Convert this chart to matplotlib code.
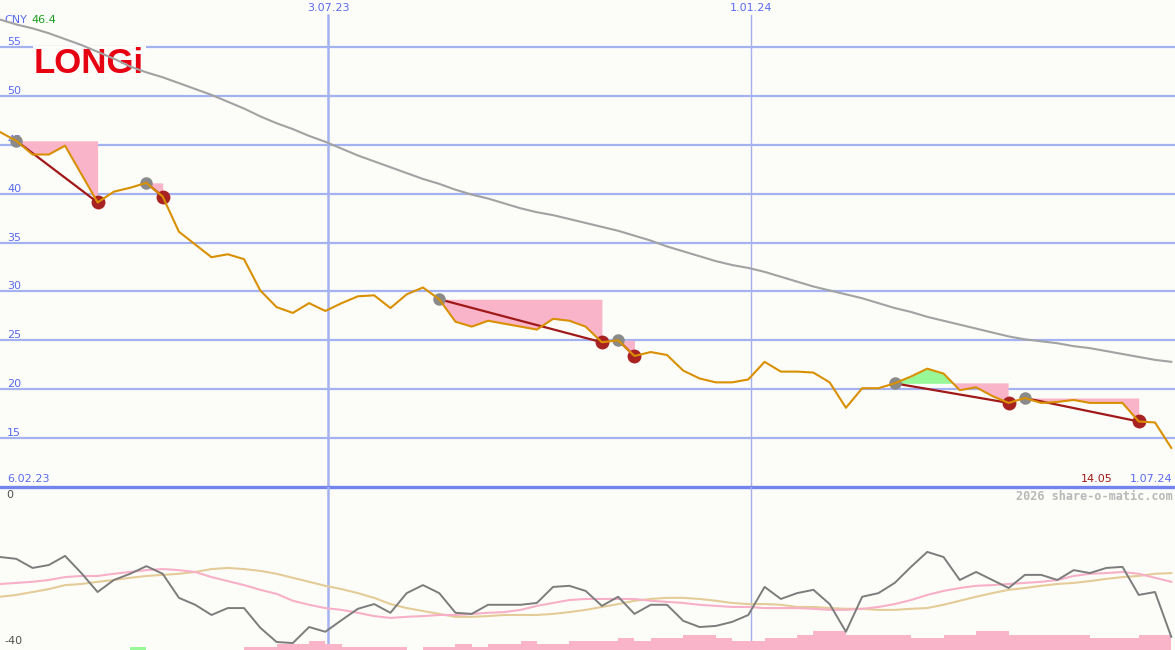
import matplotlib
matplotlib.use("Agg")
import matplotlib.pyplot as plt
import pandas as pd
import numpy as np

# weekly points, first one is 5.02.23
dates = pd.date_range("2023-02-05", periods=74, freq="7D")

price = [46.6, 46.3, 45.4, 44.0, 44.0, 44.9, 42.0, 39.1, 40.2, 40.6,
         41.1, 39.7, 36.1, 34.8, 33.5, 33.8, 33.3, 30.1, 28.4, 27.8,
         28.8, 28.0, 28.8, 29.5, 29.6, 28.3, 29.7, 30.4, 29.2, 26.9,
         26.4, 27.0, 26.7, 26.4, 26.1, 27.2, 27.0, 26.4, 24.8, 25.0,
         23.4, 23.8, 23.5, 21.9, 21.1, 20.7, 20.7, 21.0, 22.8, 21.8,
         21.8, 21.7, 20.7, 18.1, 20.1, 20.1, 20.6, 21.3, 22.1, 21.6,
         19.9, 20.2, 19.3, 18.6, 19.1, 18.6, 18.7, 18.9, 18.6, 18.6,
         18.6, 16.7, 16.6, 14.0]

ma_long = [58.2, 57.8, 57.3, 56.9, 56.4, 55.8, 55.2, 54.5, 53.8, 53.0,
           52.4, 51.9, 51.3, 50.7, 50.1, 49.4, 48.7, 47.9, 47.2, 46.6,
           45.9, 45.3, 44.6, 43.9, 43.3, 42.7, 42.1, 41.5, 41.0, 40.4,
           39.9, 39.5, 39.0, 38.5, 38.1, 37.8, 37.4, 37.0, 36.6, 36.2,
           35.7, 35.2, 34.6, 34.1, 33.6, 33.1, 32.7, 32.4, 32.0, 31.5,
           31.0, 30.5, 30.1, 29.7, 29.3, 28.8, 28.3, 27.9, 27.4, 27.0,
           26.6, 26.2, 25.8, 25.4, 25.1, 24.9, 24.7, 24.4, 24.2, 23.9,
           23.6, 23.3, 23.0, 22.8]

osc = [-15.6, -15.9, -16.4, -18.9, -18.1, -15.6, -20.3, -25.5, -22.2, -20.5,
       -18.4, -20.5, -27.1, -29.0, -31.8, -29.9, -29.9, -35.3, -39.2, -39.5,
       -35.1, -36.4, -33.2, -30.1, -28.8, -31.2, -25.8, -23.6, -25.8, -31.2,
       -31.5, -29.0, -29.0, -29.0, -28.5, -24.1, -23.8, -25.2, -29.3, -26.8,
       -31.5, -29.0, -29.0, -33.4, -35.1, -34.8, -33.7, -31.8, -24.1, -27.4,
       -25.8, -24.9, -28.8, -36.4, -26.8, -25.8, -23.0, -18.6, -14.5, -15.9,
       -22.2, -20.0, -22.2, -24.4, -20.8, -20.8, -22.2, -19.5, -20.3, -18.9,
       -18.6, -26.3, -25.5, -37.8]

osc_pink = [-23.6, -23.3, -23.0, -22.7, -22.2, -21.4, -21.1, -21.1, -20.5, -20.0,
            -19.5, -19.2, -19.5, -20.0, -21.4, -22.5, -23.6, -24.9, -26.0, -27.9,
            -29.0, -29.9, -30.4, -31.2, -32.1, -32.6, -32.3, -32.1, -31.8, -31.8,
            -31.5, -31.2, -31.0, -30.4, -29.3, -28.5, -27.7, -27.4, -27.4, -27.4,
            -27.4, -27.9, -28.2, -28.5, -29.0, -29.3, -29.6, -29.6, -29.9, -29.9,
            -29.9, -30.1, -30.4, -30.4, -30.1, -29.6, -28.8, -27.7, -26.3, -25.2,
            -24.4, -23.8, -23.6, -23.3, -23.0, -22.7, -22.2, -21.1, -20.5, -20.3,
            -20.0, -20.5, -21.6, -22.7]

osc_tan = [-27.4, -26.8, -26.3, -25.5, -24.7, -23.6, -23.3, -22.7, -22.2, -21.6,
           -21.1, -20.8, -20.5, -20.0, -19.2, -18.9, -19.2, -19.7, -20.5, -21.6,
           -22.7, -23.8, -24.7, -25.8, -27.1, -28.8, -29.9, -30.7, -31.5, -32.3,
           -32.3, -32.1, -31.8, -31.8, -31.8, -31.5, -31.0, -30.4, -29.6, -28.8,
           -27.9, -27.4, -27.1, -27.1, -27.4, -27.9, -28.5, -28.8, -28.8, -29.0,
           -29.6, -29.6, -29.9, -30.1, -30.1, -30.4, -30.4, -30.1, -29.9, -29.0,
           -27.9, -26.8, -25.8, -24.9, -24.4, -23.8, -23.3, -23.0, -22.5, -21.9,
           -21.4, -21.1, -20.5, -20.3]

bars_pink = [0, 0, 0, 0, 0, 0, 0, 0, 0, 0,
             0, 0, 0, 0, 0, 0, 0.8, 0.8, 1.6, 1.6,
             2.5, 1.6, 0.8, 0.8, 0.8, 0.8, 0, 0.8, 0.8, 1.6,
             0.8, 1.6, 1.6, 2.5, 1.6, 1.6, 2.5, 2.5, 2.5, 3.3,
             2.5, 3.3, 3.3, 4.1, 4.1, 3.3, 2.5, 2.5, 3.3, 3.3,
             4.1, 5.2, 5.2, 4.1, 4.1, 4.1, 4.1, 3.3, 3.3, 4.1,
             4.1, 5.2, 5.2, 4.1, 4.1, 4.1, 4.1, 4.1, 3.3, 3.3,
             3.3, 4.1, 4.1, 0]
bars_green = [0] * 9 + [0.8] + [0] * 64

trade_entries = ["2023-02-19", "2023-04-16", "2023-08-20",
                 "2023-11-05", "2024-03-03", "2024-04-28"]
trade_exits = ["2023-03-26", "2023-04-23", "2023-10-29",
               "2023-11-12", "2024-04-21", "2024-06-16"]

price_ticks = [15, 20, 25, 30, 35, 40, 45, 50, 55]

BG = "#fcfdf9"
GRID = "#a4b2f2"
BLUE = "#5a6af0"
ORANGE = "#d99000"
DARKRED = "#a01818"
PINK = "#f9b4c9"
GREEN = "#98f898"
SANS = "DejaVu Sans"
MONO = "DejaVu Sans Mono"

W, H, SPLIT = 1175, 650, 487


def up(x, y):
    return x / W, (SPLIT - y) / SPLIT


def low(x, y):
    return x / W, (H - y) / (H - SPLIT)


fig = plt.figure(figsize=(W / 100, H / 100), dpi=100, facecolor=BG)
ax = fig.add_axes([0, (H - SPLIT) / H, 1, SPLIT / H])
ax2 = fig.add_axes([0, 0, 1, (H - SPLIT) / H])

x0 = pd.Timestamp("2023-02-12")
x1 = x0 + pd.Timedelta(days=505.6)
for a in (ax, ax2):
    a.set_xlim(x0, x1)
    a.set_axis_off()
ax.set_ylim(10, 59.8)
ax2.set_ylim(-41.4, 3.3)

price = np.array(price)

# grid
for v in price_ticks:
    ax.axhline(v, color=GRID, lw=1.6, zorder=1)
    ax.text(x0 + pd.Timedelta(days=3), v + 0.2, str(v), color=BLUE,
            fontsize=8, family=SANS, va="baseline", ha="left", zorder=2)
ax.axhline(10, color="#7484ee", lw=2.4, clip_on=False, zorder=9)

ax.axvline(pd.Timestamp("2023-07-03"), ymax=0.97, color=GRID, lw=1.8, zorder=1)
ax.axvline(pd.Timestamp("2024-01-01"), ymax=0.97, color="#a8b0ec", lw=1.0, zorder=1)
ax2.axvline(pd.Timestamp("2023-07-03"), color=GRID, lw=1.8, zorder=1)
ax2.axvline(pd.Timestamp("2024-01-01"), color="#a8b0ec", lw=1.0, zorder=1)

# logo
ax.text(*up(34, 73), "LONGi", transform=ax.transAxes, color="#e60012",
        fontsize=25, fontweight="bold", family="Liberation Sans",
        va="baseline", ha="left", zorder=2,
        bbox=dict(facecolor=BG, edgecolor="none", pad=1.0))

# trades
for ent, ext in zip(trade_entries, trade_exits):
    ie = dates.get_loc(pd.Timestamp(ent))
    ix = dates.get_loc(pd.Timestamp(ext))
    seg_d = dates[ie:ix + 1]
    seg_p = price[ie:ix + 1]
    level = price[ie]
    ax.fill_between(seg_d, level, seg_p, where=seg_p <= level,
                    interpolate=True, color=PINK, lw=0, zorder=3)
    ax.fill_between(seg_d, level, seg_p, where=seg_p >= level,
                    interpolate=True, color=GREEN, lw=0, zorder=3)
    ax.plot([dates[ie], dates[ix]], [price[ie], price[ix]],
            color=DARKRED, lw=1.6, zorder=5)
    ax.plot(dates[ie], price[ie], "o", ms=9, color="#8a8a8a", mec="none", zorder=6)
    ax.plot(dates[ix], price[ix], "o", ms=10, color="#a82222", mec="none", zorder=6)

ax.plot(dates, ma_long, color="#a2a2a2", lw=1.5, zorder=4)
ax.plot(dates, price, color=ORANGE, lw=1.5, zorder=7)

# texts upper panel
ax.text(*up(328, 8), "3.07.23", transform=ax.transAxes, color=BLUE,
        fontsize=8, family=SANS, ha="center", va="center")
ax.text(*up(751, 8), "1.01.24", transform=ax.transAxes, color=BLUE,
        fontsize=8, family=SANS, ha="center", va="center")
ax.text(*up(4, 20), "CNY", transform=ax.transAxes, color=BLUE,
        fontsize=8, family=SANS, ha="left", va="center", zorder=2)
ax.text(*up(31, 20), "46.4", transform=ax.transAxes, color="#1c9c1c",
        fontsize=8, family=SANS, ha="left", va="center", zorder=2)
ax.text(*up(7, 479), "6.02.23", transform=ax.transAxes, color=BLUE,
        fontsize=8, family=SANS, ha="left", va="center")
ax.text(*up(1113, 479), "14.05", transform=ax.transAxes, color=DARKRED,
        fontsize=8, family=SANS, ha="right", va="center")
ax.text(*up(1172, 479), "1.07.24", transform=ax.transAxes, color=BLUE,
        fontsize=8, family=SANS, ha="right", va="center")

# lower panel
ax2.bar(dates, bars_pink, width=7, align="edge", bottom=-41.4,
        color=PINK, lw=0, zorder=2)
ax2.bar(dates, bars_green, width=7, align="edge", bottom=-41.4,
        color=GREEN, lw=0, zorder=2)
ax2.plot(dates, osc_tan, color="#e4cc98", lw=1.5, zorder=3)
ax2.plot(dates, osc_pink, color="#f8b0c8", lw=1.5, zorder=3)
ax2.plot(dates, osc, color="#7c7c7c", lw=1.4, zorder=4)

ax2.text(*low(6, 495), "0", transform=ax2.transAxes, color="#505050",
         fontsize=8, family=SANS, ha="left", va="center")
ax2.text(*low(4, 641), "-40", transform=ax2.transAxes, color="#505050",
         fontsize=8, family=SANS, ha="left", va="center")
ax2.text(*low(1173, 496), "2026 share-o-matic.com", transform=ax2.transAxes,
         color="#b8b8b8", fontsize=8.5, family=MONO, fontweight="bold",
         ha="right", va="center")

fig.savefig("out.png", dpi=100, facecolor=BG)
